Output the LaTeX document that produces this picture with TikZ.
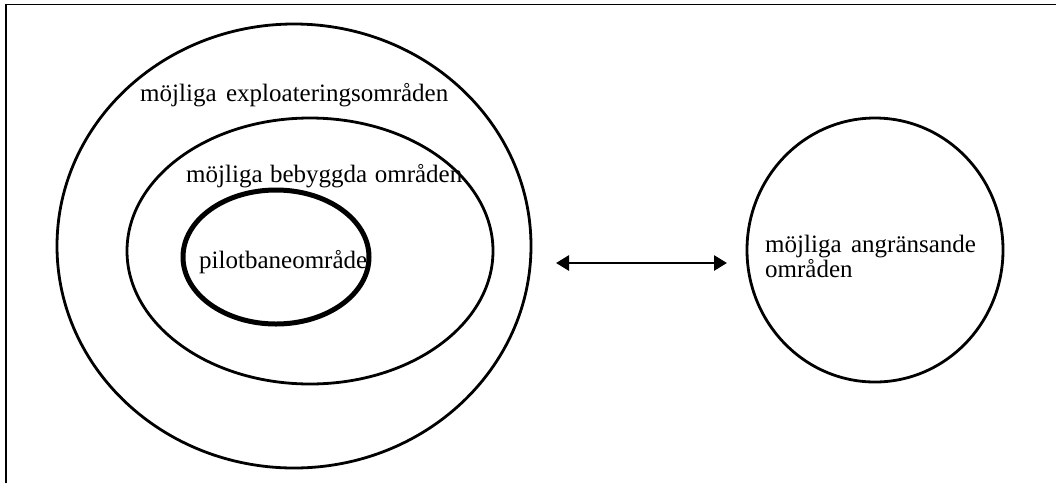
\documentclass[tikz,border=0pt]{standalone}
\usepackage{fontspec}
\setmainfont{Liberation Serif}
\usetikzlibrary{arrows.meta}
\begin{document}
\begin{tikzpicture}[x=1pt,y=-1pt,
  ring/.style={draw=black,line width=2.8pt},
  thickring/.style={draw=black,line width=5pt},
  lbl/.style={anchor=base west,inner sep=0pt,font=\fontsize{25}{26}\selectfont},
  frameline/.style={draw=black,line width=1.6pt}]
\useasboundingbox (0,0) rectangle (1056,483);
\draw[frameline] (6,483) -- (6,4.5) -- (1056,4.5);
\draw[ring] (294,246) ellipse [x radius=237,y radius=222];
\draw[ring] (310,251) ellipse [x radius=183,y radius=133];
\draw[thickring] (276,257) ellipse [x radius=93,y radius=67];
\draw[ring] (875,250) ellipse [x radius=128,y radius=132];
\node[lbl] (t1) at (140,101) {möjliga\hspace{0.38em}exploateringsområden};
\node[lbl] (t2) at (186,182) {möjliga\hspace{0.3em}bebyggda\hspace{0.3em}områden};
\node[lbl] (t3) at (199,268) {pilotbaneområde};
\node[lbl] (t4) at (765,252) {möjliga\hspace{0.38em}angränsande};
\node[lbl] (t5) at (765,277) {områden};
\coordinate (a1) at (556,263);
\coordinate (a2) at (727,263);
\draw[line width=2.8pt,{Triangle[length=13pt,width=15pt]}-{Triangle[length=13pt,width=15pt]}] (a1) -- (a2);
\end{tikzpicture}
\end{document}
